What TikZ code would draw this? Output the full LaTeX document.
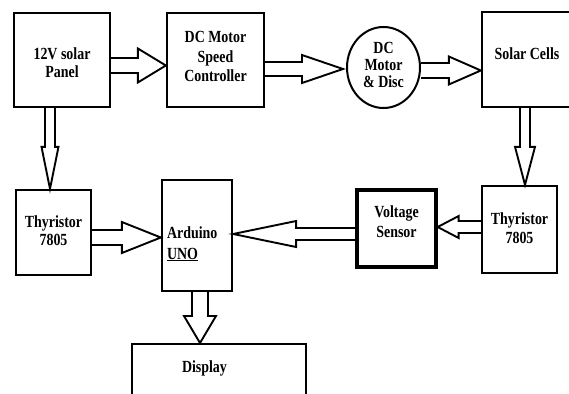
\documentclass[tikz,border=0pt]{standalone}
\usepackage{fontspec}
\setmainfont[FakeStretch=0.82]{Liberation Serif}
\usetikzlibrary{calc,shapes.geometric}
\tikzset{
  blk/.style={draw, line width=2.3pt, inner sep=0pt, align=center,
    font=\bfseries\fontsize{17}{#1}\selectfont},
  blk/.default=19,
  barrow/.style={line width=1.9pt, line join=miter},
}
% #1 start, #2 tip, #3 shaft half width, #4 head half width, #5 head length
\newcommand\blockarrow[5]{%
  \draw[barrow] let \p1=(#1), \p2=(#2),
    \n1={veclen(\x2-\x1,\y2-\y1)},
    \n2={(\x2-\x1)/\n1}, \n3={(\y2-\y1)/\n1} in
    ({\x1-\n3*#3},{\y1+\n2*#3}) --
    ({\x2-\n2*#5-\n3*#3},{\y2-\n3*#5+\n2*#3}) --
    ({\x2-\n2*#5-\n3*#4},{\y2-\n3*#5+\n2*#4}) --
    (\p2) --
    ({\x2-\n2*#5+\n3*#4},{\y2-\n3*#5-\n2*#4}) --
    ({\x2-\n2*#5+\n3*#3},{\y2-\n3*#5-\n2*#3}) --
    ({\x1+\n3*#3},{\y1-\n2*#3});
}
\begin{document}
\begin{tikzpicture}[x=1pt,y=-1pt]
\useasboundingbox (0,0) rectangle (569,393);
\node[blk=18, minimum width=96pt, minimum height=94pt, text height=36pt, text depth=0pt] (panel) at (62,60) {12V solar\\Panel};
\node[blk=19.5, minimum width=97pt, minimum height=94pt, text height=46pt, text depth=2pt] (ctrl) at (215.5,60) {DC Motor\\Speed\\Controller};
\node[blk=17, ellipse, line width=2pt, minimum width=73pt, minimum height=81pt, text height=43pt, text depth=2pt] (motor) at (383.5,67.5) {DC\\Motor\\\& Disc};
\node[blk, minimum width=90pt, minimum height=95pt, text height=12pt, text depth=11pt] (cells) at (527,59.5) {Solar Cells};
\node[blk=19, minimum width=75pt, minimum height=87pt, text height=29pt, text depth=2pt] (thyR) at (519.5,229.5) {Thyristor\\7805};
\node[blk=20, line width=3.3pt, minimum width=79pt, minimum height=77pt, text height=19pt, text depth=2pt] (volt) at (396.5,228.5) {Voltage\\Sensor};
\node[blk=19, align=left, text width=60pt, minimum width=70pt, minimum height=111pt, text height=29pt, text depth=24pt] (ard) at (197,235.5) {Arduino\\[2pt]\underline{UNO}};
\node[blk=18, minimum width=75pt, minimum height=85pt, text height=27pt, text depth=2pt] (thyL) at (53.5,232.5) {Thyristor\\7805};
\node[blk, line width=2pt, align=left, text width=74pt, minimum width=174pt, minimum height=54pt, text height=12pt, text depth=10pt] (disp) at (219,371) {Display};

\blockarrow{$(panel.east)+(0,5.5)$}{$(ctrl.west)+(0,5.5)$}{7.5}{17}{28}
\blockarrow{$(ctrl.east)+(0,9)$}{$(motor.west)+(-3,1.5)$}{7}{14}{41}
\blockarrow{$(motor.east)+(0,3)$}{$(cells.west)+(0,11)$}{7.5}{14}{32}
\blockarrow{$(cells.south)+(-2,0)$}{$(thyR.north)+(5.5,0)$}{5}{10}{38}
\blockarrow{$(panel.south)+(-12,0)$}{$(thyL.north)+(-3.5,0)$}{5}{8.5}{42}
\blockarrow{$(thyR.west)+(0,-2.5)$}{$(volt.east)+(0,-1.5)$}{6}{11}{21}
\blockarrow{$(volt.west)+(0,5.5)$}{$(ard.east)+(0,-1.5)$}{6}{13}{63}
\blockarrow{$(thyL.east)+(0,5)$}{$(ard.west)+(0,2)$}{7.5}{15.5}{39}
\blockarrow{$(ard.south)+(3,0)$}{$(disp.north)+(-19,0)$}{8}{16}{27}
\end{tikzpicture}
\end{document}
